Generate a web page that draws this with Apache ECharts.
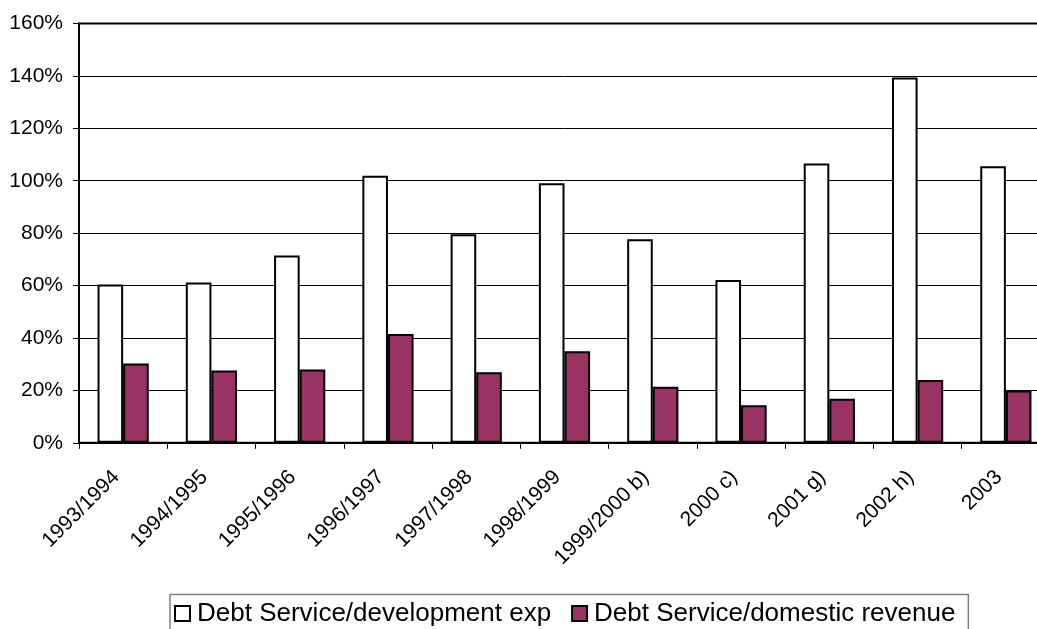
<!DOCTYPE html>
<html>
<head>
<meta charset="utf-8">
<title>Debt Service ratios</title>
<script src="https://cdn.jsdelivr.net/npm/echarts@6/dist/echarts.min.js"></script>
<style>
  html, body { margin: 0; padding: 0; background: #fff; overflow: hidden; }
  /* the plot area continues a little past the right edge of the window */
  #chart { width: 1050px; height: 629px; }
</style>
</head>
<body>
<div id="chart"></div>
<script>
// Fiscal years / years shown on the category axis
const categories = ['1993/1994', '1994/1995', '1995/1996', '1996/1997', '1997/1998',
  '1998/1999', '1999/2000 b)', '2000 c)', '2001 g)', '2002 h)', '2003'];

// Debt service as a share of development expenditure (%)
const devExp = [60.4, 61.2, 71.5, 101.9, 79.6, 99.0, 77.7, 62.1, 106.6, 139.4, 105.5];

// Debt service as a share of domestic revenue (%)
const domRevenue = [30.3, 27.6, 28.0, 41.5, 26.9, 34.9, 21.4, 14.3, 16.8, 24.0, 20.0];

const seriesNames = ['Debt Service/development exp', 'Debt Service/domestic revenue'];

const font = "'Liberation Sans', Arial, Helvetica, sans-serif";

const chart = echarts.init(document.getElementById('chart'), null, { renderer: 'canvas' });

chart.setOption({
  animation: false,
  backgroundColor: '#ffffff',
  textStyle: { fontFamily: font, color: '#000' },
  grid: {
    left: 79,
    top: 23.5,
    right: 0,
    bottom: 629 - 442.8,
    show: true,
    borderColor: '#000',
    borderWidth: 2,
    backgroundColor: 'transparent'
  },
  legend: {
    data: seriesNames,
    left: 170,
    top: 594.5,
    orient: 'horizontal',
    icon: 'rect',
    itemWidth: 15,
    itemHeight: 15,
    itemGap: 20,
    padding: [4, 13, 12, 4],
    borderColor: '#808080',
    borderWidth: 1.5,
    backgroundColor: '#fff',
    itemStyle: { borderColor: '#000', borderWidth: 2 },
    textStyle: { fontFamily: font, fontSize: 26, color: '#000', lineHeight: 30, padding: [0, 0, 0, 2] }
  },
  xAxis: {
    type: 'category',
    data: categories,
    boundaryGap: true,
    axisLine: { show: true, lineStyle: { color: '#000', width: 1.5 } },
    axisTick: { show: true, alignWithLabel: false, length: 6, lineStyle: { color: '#000', width: 1 } },
    axisLabel: {
      interval: 0,
      rotate: 45,
      margin: 24,
      padding: [0, 10, 0, 0],
      fontFamily: font,
      fontSize: 21,
      color: '#000'
    },
    splitLine: { show: false }
  },
  yAxis: {
    type: 'value',
    min: 0,
    max: 160,
    interval: 20,
    axisLine: { show: true, lineStyle: { color: '#000', width: 1.5 } },
    axisTick: { show: true, length: 6, lineStyle: { color: '#000', width: 1 } },
    axisLabel: {
      formatter: '{value}%',
      margin: 16,
      fontFamily: font,
      fontSize: 21,
      color: '#000'
    },
    splitLine: { show: true, lineStyle: { color: '#000', width: 1 } }
  },
  series: [
    {
      name: seriesNames[0],
      type: 'bar',
      data: devExp,
      barGap: '0%',
      barCategoryGap: '42%',
      itemStyle: { color: '#ffffff', borderColor: '#000', borderWidth: 2 }
    },
    {
      name: seriesNames[1],
      type: 'bar',
      data: domRevenue,
      barGap: '0%',
      barCategoryGap: '42%',
      itemStyle: { color: '#993366', borderColor: '#000', borderWidth: 2 }
    }
  ]
});
</script>
</body>
</html>
